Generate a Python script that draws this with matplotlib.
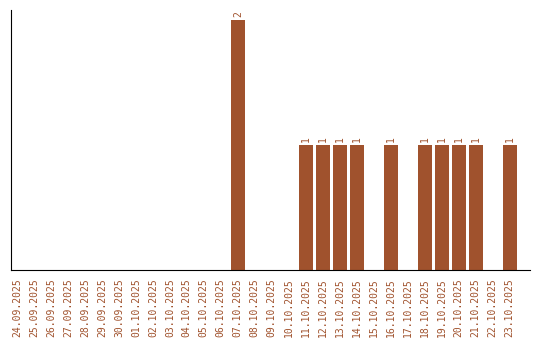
import matplotlib.pyplot as plt
import numpy as np

dates = ['24.09.2025', '25.09.2025', '26.09.2025', '27.09.2025', '28.09.2025',
         '29.09.2025', '30.09.2025', '01.10.2025', '02.10.2025', '03.10.2025',
         '04.10.2025', '05.10.2025', '06.10.2025', '07.10.2025', '08.10.2025',
         '09.10.2025', '10.10.2025', '11.10.2025', '12.10.2025', '13.10.2025',
         '14.10.2025', '15.10.2025', '16.10.2025', '17.10.2025', '18.10.2025',
         '19.10.2025', '20.10.2025', '21.10.2025', '22.10.2025', '23.10.2025']
counts = [0, 0, 0, 0, 0, 0, 0, 0, 0, 0, 0, 0, 0, 2, 0,
          0, 0, 1, 1, 1, 1, 0, 1, 0, 1, 1, 1, 1, 0, 1]

color = '#a0522d'

fig = plt.figure(figsize=(5.4, 3.4), dpi=100)
ax = fig.add_axes([0.0204, 0.206, 0.9606, 0.7646])

x = np.arange(len(dates))
ax.bar(x, counts, width=0.82, color=color)

for xi, v in zip(x, counts):
    if v > 0:
        ax.text(xi, v + 0.02, str(v), rotation=90, ha='center', va='bottom',
                fontsize=7, color=color, family='DejaVu Sans Mono')

ax.set_xticks(x)
ax.set_xticklabels(dates, rotation=90, fontsize=7, color=color,
                   family='DejaVu Sans Mono')
ax.tick_params(axis='x', length=0, pad=6)
ax.set_yticks([])
ax.set_xlim(-0.35, 30.18)
ax.set_ylim(0, 2.08)
ax.spines['top'].set_visible(False)
ax.spines['right'].set_visible(False)

plt.savefig('out.png', dpi=100)
